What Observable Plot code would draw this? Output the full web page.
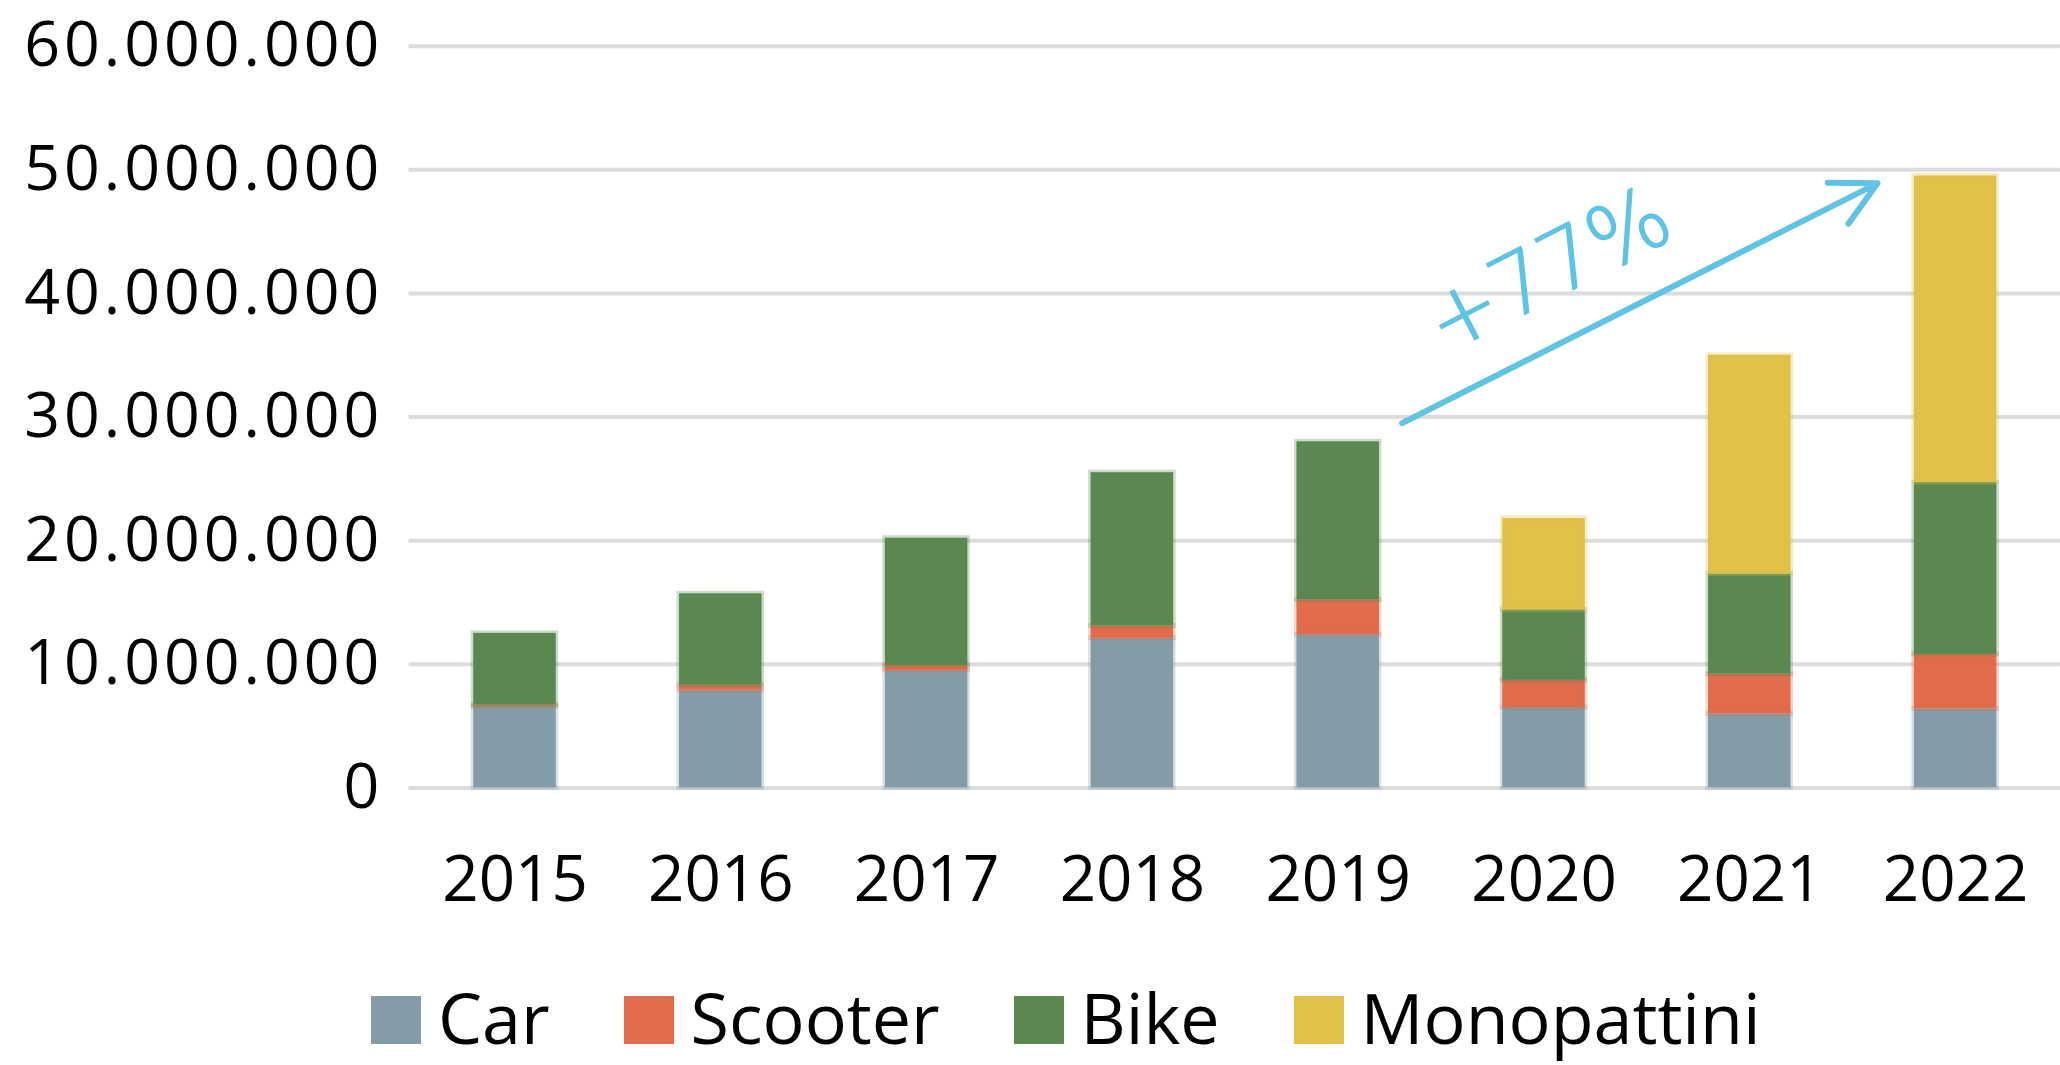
<!DOCTYPE html>
<html>
<head>
<meta charset="utf-8">
<script src="https://cdn.jsdelivr.net/npm/d3@7"></script>
<script src="https://cdn.jsdelivr.net/npm/@observablehq/plot@0.6"></script>
<style>
  html, body { margin: 0; padding: 0; background: #fff; overflow: hidden; }
  #wrap { position: relative; width: 2060px; height: 1065px; overflow: hidden; }
  #legend { position: absolute; left: 371px; top: 982px; display: flex; align-items: flex-start;
            font-family: "Open Sans", "Noto Sans", sans-serif; font-size: 70px; line-height: 70px; color: #000; }
  .item { display: flex; align-items: flex-start; margin-right: 74px; }
  .sw { width: 50px; height: 48px; margin-top: 14px; margin-right: 17px; }
  .yax text { letter-spacing: 4px; }
</style>
</head>
<body>
<div id="wrap"><div id="chart"></div><div id="legend"></div></div>
<script>
// ---- data ----
const years = ["2015", "2016", "2017", "2018", "2019", "2020", "2021", "2022"];
const seriesNames = ["Car", "Scooter", "Bike", "Monopattini"];
const seriesColors = ["#849ca7", "#e06c4c", "#5a8850", "#e1c14a"];
const car         = [6.6e6, 7.9e6, 9.5e6, 12.1e6, 12.4e6, 6.5e6, 6.0e6, 6.4e6];
const scooter     = [0.1e6, 0.4e6, 0.4e6, 1.0e6, 2.8e6, 2.2e6, 3.2e6, 4.4e6];
const bike        = [5.8e6, 7.4e6, 10.3e6, 12.4e6, 12.8e6, 5.7e6, 8.1e6, 13.9e6];
const monopattini = [0, 0, 0, 0, 0, 7.4e6, 17.7e6, 24.8e6];
const yTicks = [0, 10e6, 20e6, 30e6, 40e6, 50e6, 60e6];
// annotation: arrow from 2019 to 2022
const arrowFromYear = "2019", arrowToYear = "2022";
const arrowFromValue = 26.9e6, arrowToValue = 52.1e6;
const labelYear = "2020", labelValue = 41.8e6;

// ---- build table ----
const seriesValues = [car, scooter, bike, monopattini];
const rows = [];
years.forEach((yr, i) => {
  seriesNames.forEach((s, j) => {
    const v = seriesValues[j][i];
    if (v > 0) rows.push({year: yr, series: s, value: v});
  });
});
const totals = years.map((yr, i) => seriesValues.reduce((a, arr) => a + arr[i], 0));
const growth = totals[years.indexOf(arrowToYear)] / totals[years.indexOf(arrowFromYear)] - 1;
const growthLabel = "+" + Math.round(growth * 100) + "%";

const itFmt = d3.formatLocale({decimal: ",", thousands: ".", grouping: [3], currency: ["€", ""]}).format(",d");

const chart = Plot.plot({
  width: 2072,
  height: 975,
  marginLeft: 411,
  marginRight: 0,
  marginTop: 46,
  marginBottom: 183,
  style: {fontFamily: "'Open Sans', 'Noto Sans', sans-serif", color: "#000", background: "#fff", overflow: "hidden"},
  x: {type: "band", domain: years, paddingInner: 0.6, paddingOuter: 0.3, label: null},
  y: {domain: [0, 60e6], label: null},
  color: {domain: seriesNames, range: seriesColors},
  marks: [
    Plot.ruleY(yTicks, {stroke: "#dcdcdc", strokeWidth: 4}),
    Plot.barY(rows, Plot.stackY({order: seriesNames}, {
      x: "year", y: "value", fill: "series",
      stroke: "series", strokeOpacity: 0.3, strokeWidth: 5
    })),
    Plot.axisY({ticks: yTicks, tickFormat: itFmt, tickSize: 0, tickPadding: 26, fontSize: 63, label: null, className: "yax"}),
    Plot.axisX({tickSize: 0, tickPadding: 68, fontSize: 64, label: null}),
    Plot.arrow([{}], {
      x1: () => arrowFromYear, y1: () => arrowFromValue,
      x2: () => arrowToYear, y2: () => arrowToValue,
      stroke: "#5fc3e4", strokeWidth: 6, headLength: 12.5, headAngle: 55,
      insetStart: 72, insetEnd: 88, strokeLinecap: "round", strokeLinejoin: "round"
    }),
    Plot.text([growthLabel], {
      x: () => labelYear, y: () => labelValue, text: d => d, rotate: -27, dx: 5,
      fill: "#5fc3e4", stroke: "#5fc3e4", strokeWidth: 1.5, fontSize: 86, fontWeight: 200, fontFamily: "DejaVu Sans",
      textAnchor: "middle", lineAnchor: "middle"
    })
  ]
});
document.getElementById("chart").appendChild(chart);

const legend = document.getElementById("legend");
seriesNames.forEach((s, j) => {
  const item = document.createElement("div");
  item.className = "item";
  const sw = document.createElement("div");
  sw.className = "sw";
  sw.style.background = seriesColors[j];
  const t = document.createElement("span");
  t.textContent = s;
  item.appendChild(sw);
  item.appendChild(t);
  legend.appendChild(item);
});
</script>
</body>
</html>
